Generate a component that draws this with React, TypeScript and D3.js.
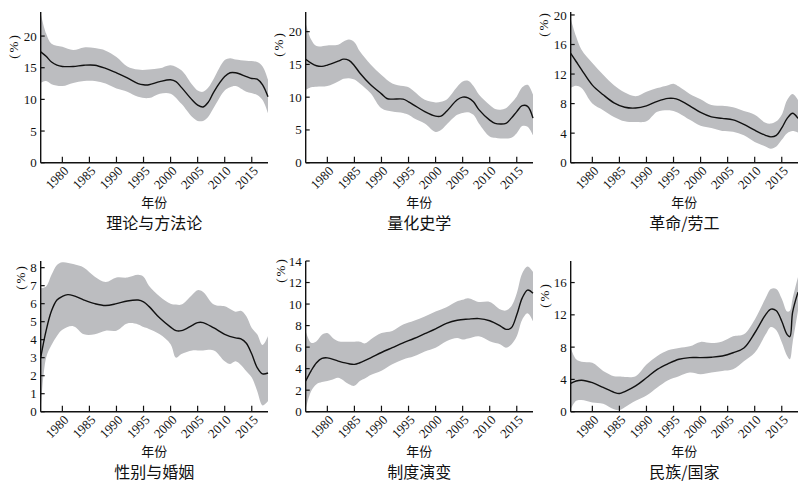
import React from 'react';
import * as d3 from 'd3';

// ---------- data ----------
const titles = ['理论与方法论', '量化史学', '革命/劳工', '性别与婚姻', '制度演变', '民族/国家'];
const xTicks = [1980, 1985, 1990, 1995, 2000, 2005, 2010, 2015];

const years1 = [1976,1977,1978,1979,1980,1982,1984,1986,1988,1990,1992,1994,1995,1996,1998,2000,2001,2002,2004,2005,2006,2007,2008,2010,2011,2012,2014,2015,2016,2017,2018];
const mean1 = [17.5,16.8,15.9,15.4,15.2,15.2,15.4,15.4,14.9,14.2,13.4,12.5,12.3,12.3,12.8,13.1,12.8,11.9,9.9,9.1,8.8,9.6,11.2,13.6,14.2,14.2,13.6,13.3,13.2,12.3,10.4];
const bandYears1 = [1976,1977,1978,1980,1982,1984,1986,1988,1990,1992,1994,1996,1998,2000,2002,2004,2005,2006,2007,2008,2010,2011,2012,2014,2016,2017,2018];
const upper1 = [23.6,20.4,18.8,18.3,17.8,18.2,18.1,17.7,16.7,15.2,14.7,14.7,14.9,15.4,14.6,12.3,11.4,11.2,11.9,13.3,16.2,16.5,16.3,16.1,15.9,15.2,13.1];
const lower1 = [12.6,12.9,12.4,12.1,12.6,12.9,12.9,12.5,11.7,11.2,10.4,10.2,10.9,10.9,9.3,7.2,6.6,6.6,7.3,8.7,11.4,11.9,12.1,11.2,10.7,9.9,7.8];
const yTicks1 = [0, 5, 10, 15, 20];

const years2 = [1976,1977,1978,1979,1980,1982,1983,1984,1985,1986,1988,1990,1991,1992,1994,1995,1996,1998,2000,2001,2002,2004,2005,2006,2007,2008,2010,2011,2012,2013,2014,2015,2016,2017,2018];
const mean2 = [15.8,15.2,14.8,14.7,14.9,15.5,15.8,15.6,14.8,13.7,11.9,10.5,9.8,9.7,9.7,9.3,8.8,7.8,7.1,7.1,7.8,9.6,10.0,9.9,9.3,8.1,6.5,6.0,5.9,6.0,6.8,7.8,8.7,8.6,6.8];
const bandYears2 = [1976,1977,1978,1980,1982,1983,1984,1985,1986,1988,1990,1992,1994,1995,1996,1998,2000,2001,2002,2004,2005,2006,2007,2008,2010,2011,2012,2013,2014,2015,2016,2017,2018];
const upper2 = [21.3,18.8,17.8,17.9,18.0,18.5,18.8,18.4,17.0,15.0,13.4,12.1,11.7,11.5,10.9,9.6,9.2,9.3,9.6,11.6,12.4,12.5,11.7,10.4,8.8,8.2,8.1,8.3,9.1,10.1,11.5,11.9,10.4];
const lower2 = [11.1,11.5,11.6,11.7,12.4,12.8,12.9,12.7,12.1,10.6,8.3,7.8,7.6,7.3,6.8,6.0,4.7,5.0,5.8,7.3,7.6,7.7,7.3,6.0,4.0,3.8,3.7,3.7,3.8,4.5,5.6,5.5,4.2];
const yTicks2 = [0, 5, 10, 15, 20];

const years3 = [1976,1977,1978,1980,1982,1984,1986,1988,1990,1992,1994,1995,1996,1998,2000,2002,2004,2006,2008,2010,2012,2013,2014,2015,2016,2017,2018];
const mean3 = [14.8,13.7,12.6,10.5,9.2,8.1,7.5,7.4,7.7,8.3,8.7,8.7,8.5,7.7,6.8,6.2,6.0,5.8,5.2,4.4,3.7,3.5,3.7,4.7,6.0,6.7,6.0];
const upper3 = [19.5,17.1,15.3,13.5,11.9,10.5,9.5,9.0,9.6,10.1,10.5,10.7,10.3,9.3,8.6,7.8,7.7,7.5,7.0,6.5,5.4,5.3,5.6,6.5,8.5,9.3,8.5];
const lower3 = [10.1,10.4,10.1,8.0,7.1,6.2,5.6,5.5,5.6,6.9,7.1,7.0,6.7,5.8,5.0,4.7,4.3,4.2,3.7,2.8,2.2,1.9,2.2,3.1,4.0,4.3,4.1];
const yTicks3 = [0, 4, 8, 12, 16, 20];

const years4 = [1976,1977,1978,1979,1980,1981,1982,1984,1986,1988,1990,1992,1994,1995,1996,1998,2000,2001,2002,2004,2005,2006,2008,2010,2012,2013,2014,2015,2016,2017,2018];
const mean4 = [3.0,4.5,5.6,6.2,6.4,6.5,6.45,6.2,6.0,5.9,6.0,6.15,6.2,6.1,5.85,5.2,4.7,4.5,4.5,4.8,4.95,4.95,4.65,4.3,4.1,4.05,3.8,3.2,2.45,2.1,2.15];
const bandYears4 = [1976,1977,1978,1979,1980,1982,1984,1986,1988,1990,1992,1994,1995,1996,1998,2000,2001,2002,2004,2005,2006,2008,2010,2011,2012,2013,2014,2015,2016,2017,2018];
const upper4 = [6.85,6.95,7.6,8.15,8.3,8.2,8.0,7.5,7.2,7.45,7.45,7.6,7.5,7.0,6.4,6.0,5.95,5.95,6.5,6.75,6.65,5.95,5.85,5.7,5.55,5.6,5.3,4.65,4.3,3.7,4.2];
const lower4 = [0.05,3.0,3.7,4.2,4.55,4.75,4.3,4.3,4.5,4.5,4.9,4.85,4.7,4.6,4.3,3.75,3.0,3.2,3.4,3.4,3.4,3.4,2.8,2.65,2.8,2.6,2.25,1.9,1.15,0.35,0.6];
const yTicks4 = [0, 1, 2, 3, 4, 5, 6, 7, 8];

const years5 = [1976,1977,1978,1979,1980,1982,1984,1985,1986,1988,1990,1992,1994,1996,1998,2000,2002,2004,2006,2008,2010,2012,2013,2014,2015,2016,2017,2018];
const mean5 = [2.85,3.8,4.55,4.95,5.0,4.7,4.45,4.4,4.55,5.0,5.5,5.95,6.4,6.8,7.25,7.7,8.2,8.5,8.6,8.65,8.45,7.95,7.65,7.8,9.0,10.55,11.3,11.0];
const bandYears5 = [1976,1977,1978,1979,1980,1981,1982,1984,1985,1986,1987,1988,1990,1992,1994,1996,1998,2000,2002,2004,2005,2006,2008,2010,2012,2013,2014,2015,2016,2017,2018];
const upper5 = [7.5,6.4,6.55,7.15,7.3,6.85,6.55,6.5,6.5,6.5,6.35,6.7,7.3,7.5,8.1,8.45,8.85,9.3,9.7,10.25,10.4,10.55,10.2,10.2,9.5,9.4,9.8,11.0,12.85,13.5,13.0];
const lower5 = [0.25,1.9,2.55,2.75,2.85,3.0,3.15,2.55,2.4,2.85,3.1,3.4,3.8,4.4,4.85,5.15,5.6,5.95,6.55,6.85,6.7,6.8,7.0,6.55,6.25,5.95,6.25,7.0,8.55,9.15,8.4];
const yTicks5 = [0, 2, 4, 6, 8, 10, 12, 14];

const years6 = [1976,1977,1978,1980,1982,1984,1985,1986,1988,1990,1992,1994,1996,1998,2000,2002,2004,2006,2008,2010,2012,2013,2014,2015,2016,2016.5,2017,2018];
const mean6 = [3.5,3.8,3.9,3.6,3.0,2.4,2.25,2.5,3.2,4.2,5.25,5.95,6.5,6.7,6.7,6.75,6.9,7.3,7.9,9.75,12.0,12.7,12.5,11.2,9.55,9.3,12.3,14.8];
const upper6 = [7.9,6.5,6.2,6.05,5.05,4.4,4.35,4.3,4.4,5.85,6.9,7.6,7.9,8.1,8.65,8.5,8.7,9.35,9.6,11.4,14.05,15.2,15.2,14.0,12.4,12.5,14.0,16.7];
const lower6 = [0.3,1.35,1.45,1.15,1.0,0.3,0.2,0.55,1.35,2.0,3.0,3.9,4.4,4.85,4.65,4.85,5.05,5.25,6.25,7.3,9.55,10.5,10.1,8.6,6.9,6.5,8.5,12.5];
const yTicks6 = [0, 4, 8, 12, 16];

const yMaxes = [23.8, 23, 20.4, 8.37, 14, 18.67];

const panels = [
  { title: titles[0], years: years1, mean: mean1, bandYears: bandYears1, upper: upper1, lower: lower1, yTicks: yTicks1, yMax: yMaxes[0] },
  { title: titles[1], years: years2, mean: mean2, bandYears: bandYears2, upper: upper2, lower: lower2, yTicks: yTicks2, yMax: yMaxes[1] },
  { title: titles[2], years: years3, mean: mean3, bandYears: years3, upper: upper3, lower: lower3, yTicks: yTicks3, yMax: yMaxes[2] },
  { title: titles[3], years: years4, mean: mean4, bandYears: bandYears4, upper: upper4, lower: lower4, yTicks: yTicks4, yMax: yMaxes[3] },
  { title: titles[4], years: years5, mean: mean5, bandYears: bandYears5, upper: upper5, lower: lower5, yTicks: yTicks5, yMax: yMaxes[4] },
  { title: titles[5], years: years6, mean: mean6, bandYears: years6, upper: upper6, lower: lower6, yTicks: yTicks6, yMax: yMaxes[5] },
];

// ---------- layout ----------
const W = 798, H = 482;
const colLeft = [40.7, 305.7, 570.7];
const plotW = 227.3;
const rowTop = [12, 261];
const plotH = 150.7;
// position of the "(%)" label per panel: [x, centerY]
const unitPos = [[13, 46], [278, 44], [543, 24], [20, 277], [280, 270], [544, 295]];

const numFont = '"Liberation Serif", "DejaVu Serif", serif';
const cjkFont = '"Noto Sans CJK SC", "Noto Sans", sans-serif';

function Panel({ p, i }: { p: any; i: number }) {
  const left = colLeft[i % 3];
  const top = rowTop[Math.floor(i / 3)];
  const bottom = top + plotH;
  const right = left + plotW;
  const x = d3.scaleLinear().domain([1976, 2018]).range([left, right]);
  const y = d3.scaleLinear().domain([0, p.yMax]).range([bottom, top]);
  const curve = d3.curveCatmullRom.alpha(0.5);
  const area = d3.area<number>()
    .x((_, k) => x(p.bandYears[k]))
    .y0((_, k) => y(p.lower[k]))
    .y1((_, k) => y(p.upper[k]))
    .curve(curve);
  const line = d3.line<number>()
    .x((_, k) => x(p.years[k]))
    .y((d) => y(d))
    .curve(curve);
  const clipId = `clip${i}`;
  const cx = (left + right) / 2;
  const [ux, uy] = unitPos[i];
  return (
    <g>
      <defs>
        <clipPath id={clipId}>
          <rect x={left} y={top - 2} width={plotW + 2} height={plotH + 2} />
        </clipPath>
      </defs>
      <g clipPath={`url(#${clipId})`}>
        <path d={area(p.upper) || ''} fill="#bcbdc0" stroke="none" />
        <path d={line(p.mean) || ''} fill="none" stroke="#111" strokeWidth={1.4} />
      </g>
      <line x1={left} y1={top} x2={left} y2={bottom} stroke="#111" strokeWidth={1.4} />
      <line x1={left} y1={bottom} x2={right} y2={bottom} stroke="#111" strokeWidth={1.4} />
      {p.yTicks.map((t: number) => (
        <g key={'y' + t}>
          <line x1={left} x2={left + 4} y1={y(t)} y2={y(t)} stroke="#111" strokeWidth={1.2} />
          <text x={left - 4} y={y(t)} dy="0.35em" textAnchor="end" fontFamily={numFont} fontSize={13} fill="#111">{t}</text>
        </g>
      ))}
      {xTicks.map((t) => (
        <g key={'x' + t}>
          <line x1={x(t)} x2={x(t)} y1={bottom} y2={bottom - 6} stroke="#111" strokeWidth={1.2} />
          <text transform={`translate(${x(t) + 7},${bottom + 9}) rotate(-45)`} textAnchor="end" fontFamily={numFont} fontSize={13} fill="#111">{t}</text>
        </g>
      ))}
      <text transform={`translate(${ux},${uy}) rotate(-90)`} textAnchor="middle" dy="0.35em" fontFamily={numFont} fontSize={13} fill="#111" letterSpacing={2}>(%)</text>
      <text x={cx} y={bottom + 44.5} textAnchor="middle" fontFamily={cjkFont} fontSize={13} fill="#111">年份</text>
      <text x={cx} y={bottom + 66.5} textAnchor="middle" fontFamily={cjkFont} fontSize={16} fill="#111">{p.title}</text>
    </g>
  );
}

export default function App() {
  return (
    <svg width={W} height={H} style={{ position: 'absolute', left: 0, top: 0, background: '#fff' }}>
      <rect width={W} height={H} fill="#fff" />
      {panels.map((p, i) => <Panel key={i} p={p} i={i} />)}
    </svg>
  );
}
